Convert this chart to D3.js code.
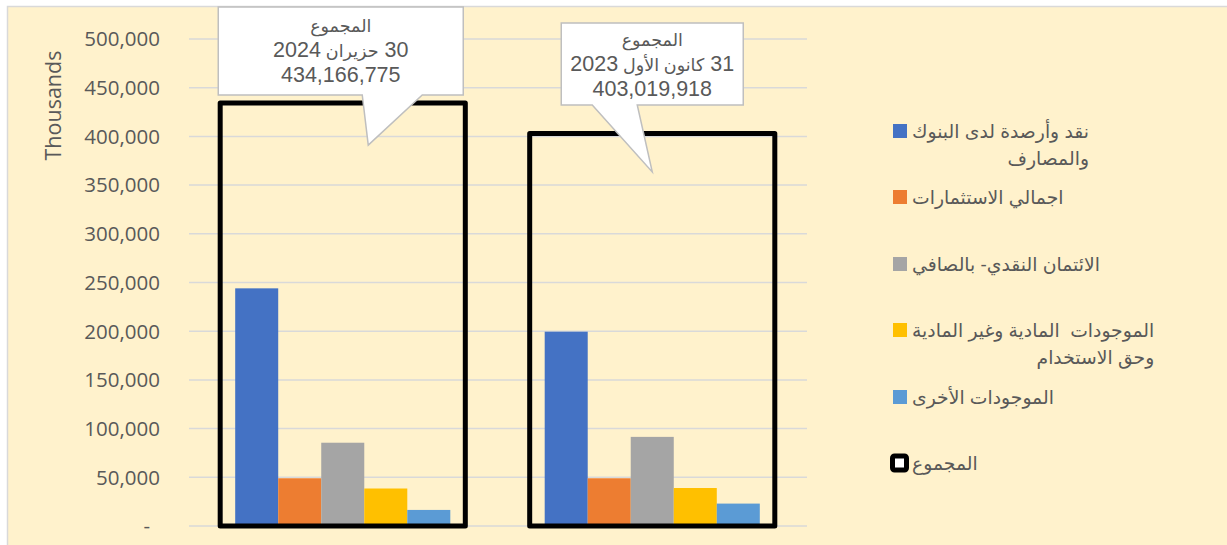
<!DOCTYPE html>
<html><head><meta charset="utf-8">
<script src="https://cdn.jsdelivr.net/npm/d3@7"></script>
<style>
html,body{margin:0;padding:0;background:#fff;}
svg{display:block;}
text{white-space:pre;}
</style></head>
<body>
<svg id="chart" width="1227" height="545"></svg>
<script>
// ---- data (values in thousands) ----
const categories = ["30 حزيران 2024", "31 كانون الأول 2023"];
const seriesKeys = ["cash", "invest", "credit", "fixed", "other"];
const seriesLabels = [
  ["نقد وأرصدة لدى البنوك", "والمصارف"],
  ["اجمالي الاستثمارات"],
  ["الائتمان النقدي- بالصافي"],
  ["الموجودات  المادية وغير المادية", "وحق الاستخدام"],
  ["الموجودات الأخرى"]
];
const totalLabel = "المجموع";
const cashBanks   = [244000, 199500];
const investments = [49000, 49000];
const netCredit   = [85500, 91500];
const fixedAssets = [38500, 39000];
const otherAssets = [16500, 23000];
const totals      = [434166.775, 403019.918];
const totalTexts  = ["434,166,775", "403,019,918"];
const yTicks = [0, 50000, 100000, 150000, 200000, 250000, 300000, 350000, 400000, 450000, 500000];
const colors = ["#4472C4", "#ED7D31", "#A5A5A5", "#FFC000", "#5B9BD5"];

const seriesValues = [cashBanks, investments, netCredit, fixedAssets, otherAssets];

// ---- layout ----
const svg = d3.select("#chart");
const textColor = "#595959";
const numFont = "'Open Sans', 'DejaVu Sans', sans-serif";
const arFont = "'Liberation Sans', Arial, 'DejaVu Sans', sans-serif";

// writes mixed Arabic / Latin text with a smaller size for Arabic runs
function addRuns(sel, str, arSize, latSize) {
  const parts = str.match(/[\u0600-\u06FF][\u0600-\u06FF \-]*|[^\u0600-\u06FF]+/g) || [];
  parts.forEach(p => {
    const isAr = /[\u0600-\u06FF]/.test(p);
    sel.append("tspan").attr("font-size", isAr ? arSize : latSize).text(p);
  });
}

// chart area background
svg.append("rect").attr("x", 7).attr("y", 6).attr("width", 1227 - 7).attr("height", 545 - 6)
  .attr("fill", "#FFF2CC");
svg.append("path").attr("d", "M7.5,545 V6.5 H1227").attr("fill", "none")
  .attr("stroke", "#D9D9D9").attr("stroke-width", 1.5);

const plotL = 188, plotR = 807;
const y = d3.scaleLinear().domain([0, 500000]).range([526, 39]);
const x = d3.scaleBand().domain(categories).range([plotL, plotR]).padding(0);
const totalW = x.bandwidth() * 0.792;
const groupW = x.bandwidth() * 0.695;
const xs = d3.scaleBand().domain(seriesKeys)
  .range([(x.bandwidth() - groupW) / 2, (x.bandwidth() + groupW) / 2]).padding(0);

// gridlines
svg.append("g").selectAll("line").data(yTicks).join("line")
  .attr("x1", plotL + 1).attr("x2", plotR)
  .attr("y1", d => y(d)).attr("y2", d => y(d))
  .attr("stroke", "#D9D9D9").attr("stroke-width", 1.5);

// y axis labels
const fmt = d3.format(",");
svg.append("g").selectAll("text").data(yTicks).join("text")
  .attr("x", d => d === 0 ? 150 : 160)
  .attr("y", d => y(d))
  .attr("dy", "0.36em")
  .attr("text-anchor", "end")
  .attr("font-family", numFont).attr("font-size", 20.5)
  .attr("fill", textColor)
  .text(d => d === 0 ? "-" : fmt(d));

svg.append("text")
  .attr("transform", "translate(61,105.5) rotate(-90)")
  .attr("text-anchor", "middle")
  .attr("font-family", numFont).attr("font-size", 21.5)
  .attr("fill", textColor)
  .text("Thousands");

// bars
const groups = svg.append("g").selectAll("g").data(categories).join("g")
  .attr("transform", d => `translate(${x(d)},0)`);

groups.each(function(cat, ci) {
  const g = d3.select(this);
  g.selectAll("rect.bar").data(seriesKeys).join("rect")
    .attr("class", "bar")
    .attr("x", k => xs(k))
    .attr("width", xs.bandwidth())
    .attr("y", (k, si) => y(seriesValues[si][ci]))
    .attr("height", (k, si) => y(0) - y(seriesValues[si][ci]))
    .attr("fill", (k, si) => colors[si]);
  // total box
  g.append("rect")
    .attr("x", (x.bandwidth() - totalW) / 2)
    .attr("width", totalW)
    .attr("y", y(totals[ci]))
    .attr("height", y(0) - y(totals[ci]))
    .attr("fill", "none").attr("stroke", "#000").attr("stroke-width", 5)
    .attr("stroke-linejoin", "round");
});

// callouts (offsets relative to category centre and total top)
const calloutLayout = [
  {x0: -124.5, x1: 120.5, y0: 7, y1: 95, b1: 19.5, b2: 79.5, tx: 25.5, ty: 42, base: 32},
  {x0: -91, x1: 91, y0: 23, y1: 105, b1: -60, b2: -15, tx: 0, ty: 38.5, base: 46}
];
categories.forEach((cat, ci) => {
  const cx = x(cat) + x.bandwidth() / 2;
  const L = calloutLayout[ci];
  const yt = y(totals[ci]);
  const p = d3.path();
  p.moveTo(cx + L.x0, L.y0);
  p.lineTo(cx + L.x1, L.y0);
  p.lineTo(cx + L.x1, L.y1);
  p.lineTo(cx + L.b2, L.y1);
  p.lineTo(cx + L.tx, yt + L.ty);
  p.lineTo(cx + L.b1, L.y1);
  p.lineTo(cx + L.x0, L.y1);
  p.closePath();
  svg.append("path").attr("d", p.toString())
    .attr("fill", "#fff").attr("stroke", "#BFBFBF").attr("stroke-width", 1.5);
  const lines = [totalLabel, cat, totalTexts[ci]];
  const tcx = cx + (L.x0 + L.x1) / 2;
  lines.forEach((ln, i) => {
    const t = svg.append("text")
      .attr("x", tcx)
      .attr("y", L.base + i * 25)
      .attr("text-anchor", "middle")
      .attr("direction", "rtl")
      .style("direction", "rtl")
      .style("unicode-bidi", "embed")
      .attr("font-family", arFont)
      .attr("fill", textColor);
    addRuns(t, ln, 17.5, 21.5);
  });
});

// legend
const legX = 893, legTextX = 912;
const legY = [131, 197, 264, 330, 397, 463];
const legArSize = 18.8;
seriesLabels.forEach((lines, i) => {
  const cy = legY[i];
  svg.append("rect").attr("x", legX).attr("y", cy - 7).attr("width", 14).attr("height", 14)
    .attr("fill", colors[i]);
  const g = svg.append("g");
  const ts = g.selectAll("text").data(lines).join("text")
    .attr("y", (d, j) => cy + 7 + j * 27)
    .attr("text-anchor", "middle")
    .style("direction", "rtl")
    .style("unicode-bidi", "embed")
    .attr("font-family", arFont).attr("font-size", legArSize)
    .attr("fill", textColor)
    .text(d => d);
  const widths = [];
  ts.each(function() { widths.push(this.getComputedTextLength()); });
  const maxW = d3.max(widths);
  ts.attr("x", (d, j) => legTextX + maxW - widths[j] / 2);
});
{
  const cy = legY[5];
  svg.append("rect").attr("x", 892.5).attr("y", cy - 7).attr("width", 14).attr("height", 14)
    .attr("rx", 2)
    .attr("fill", "#fff").attr("stroke", "#000").attr("stroke-width", 5);
  svg.append("text").attr("x", 912).attr("y", cy + 7)
    .attr("font-family", arFont).attr("font-size", legArSize)
    .attr("fill", textColor).text(totalLabel);
}
</script>
</body></html>
